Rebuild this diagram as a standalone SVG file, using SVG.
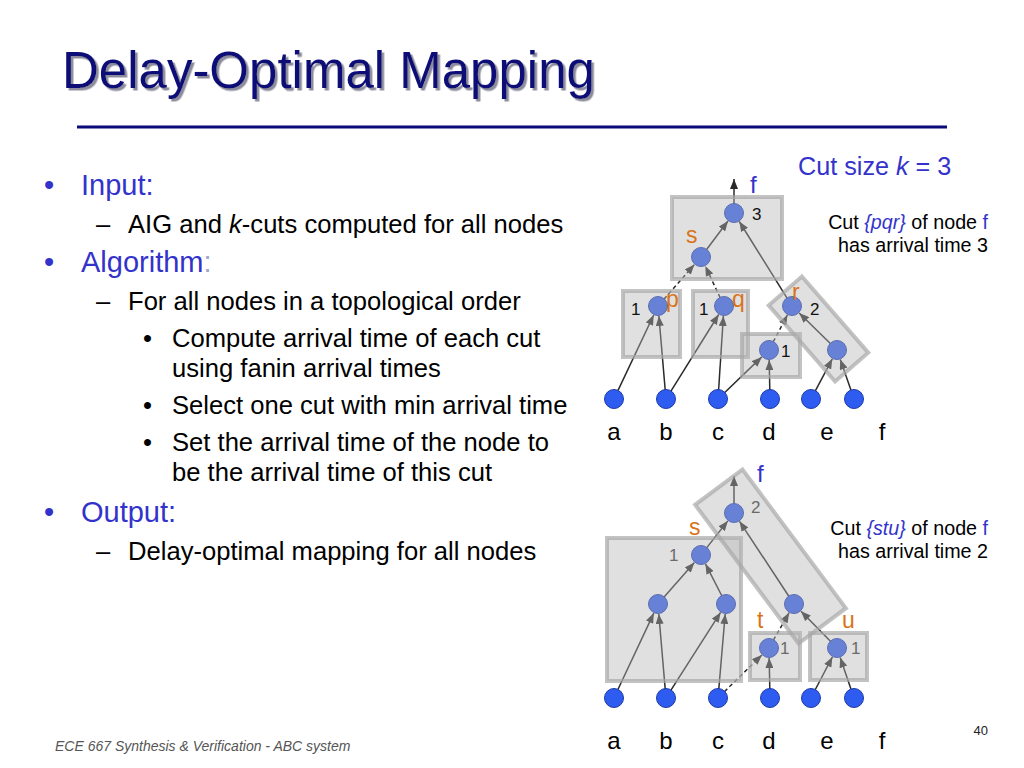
<svg xmlns="http://www.w3.org/2000/svg" width="1024" height="768" viewBox="0 0 1024 768">
<defs>
<marker id="ah" markerUnits="userSpaceOnUse" markerWidth="10" markerHeight="8" refX="10" refY="4" orient="auto">
<path d="M0,0 L10,4 L0,8 z" fill="#2a2a2a"/>
</marker>
<filter id="shadow" x="-5%" y="-20%" width="110%" height="150%">
<feDropShadow dx="2.5" dy="2.5" stdDeviation="0.7" flood-color="#8c8c9c" flood-opacity="1"/>
</filter>
</defs>
<style>
.t{font-family:"Liberation Sans",Arial,sans-serif}
.edge{stroke:#2a2a2a;stroke-width:1.5;fill:none;marker-end:url(#ah)}
.dash{stroke-dasharray:4 3}
.node{fill:#2f5cf0;stroke:#1d3aa8;stroke-width:1}
.cut{fill:#b4b4b4;fill-opacity:0.42;stroke:#a6a6a6;stroke-opacity:0.68;stroke-width:4}
.blue{fill:#3333cc}
.org{fill:#d9731a;font-size:23px}
.num{font-size:17px;fill:#111}
.numg{font-size:17px;fill:#6a6a6a}
.leaf{font-size:24px;fill:#000;text-anchor:middle}
.b1{font-size:29px}
.b2{font-size:25.6px;fill:#000}
.rt{font-size:19.7px;fill:#000;text-anchor:end}
</style>
<rect width="1024" height="768" fill="#fff"/>

<!-- Title -->
<g id="title">
<text class="t" x="62" y="88" font-size="51" fill="#0a0a78" filter="url(#shadow)">Delay-Optimal Mapping</text>
<line x1="77" y1="127" x2="947" y2="127" stroke="#0a0a78" stroke-width="3"/>
</g>

<!-- Bullets -->
<g id="bullets" class="t">
<text x="44" y="195" class="b1 blue">•</text>
<text x="81" y="195" class="b1 blue">Input:</text>
<text x="96" y="233" class="b2">–</text>
<text x="128" y="233" class="b2">AIG and <tspan font-style="italic">k</tspan>-cuts computed for all nodes</text>
<text x="44" y="272" class="b1 blue">•</text>
<text x="81" y="272" class="b1"><tspan class="blue">Algorithm</tspan><tspan fill="#a6a6d2">:</tspan></text>
<text x="96" y="310" class="b2">–</text>
<text x="128" y="310" class="b2">For all nodes in a topological order</text>
<text x="143" y="347" class="b2">•</text>
<text x="172" y="347" class="b2">Compute arrival time of each cut</text>
<text x="172" y="377" class="b2">using fanin arrival times</text>
<text x="143" y="414" class="b2">•</text>
<text x="172" y="414" class="b2">Select one cut with min arrival time</text>
<text x="143" y="451" class="b2">•</text>
<text x="172" y="451" class="b2">Set the arrival time of the node to</text>
<text x="172" y="481" class="b2">be the arrival time of this cut</text>
<text x="44" y="522" class="b1 blue">•</text>
<text x="81" y="522" class="b1 blue">Output:</text>
<text x="96" y="560" class="b2">–</text>
<text x="128" y="560" class="b2">Delay-optimal mapping for all nodes</text>
</g>

<!-- Right side texts -->
<g id="notes" class="t">
<text x="798" y="175" font-size="25.2" class="blue">Cut size <tspan font-style="italic">k</tspan> = 3</text>
<text x="988" y="229" class="rt">Cut <tspan font-style="italic" fill="#3333cc">{pqr}</tspan> of node <tspan fill="#3333cc">f</tspan></text>
<text x="988" y="252" class="rt">has arrival time 3</text>
<text x="988" y="535" class="rt">Cut <tspan font-style="italic" fill="#3333cc">{stu}</tspan> of node <tspan fill="#3333cc">f</tspan></text>
<text x="988" y="558" class="rt">has arrival time 2</text>
</g>

<!-- Connectors -->
<g id="connectors">
<!-- top diagram -->
<line class="edge" x1="617.8" y1="390.9" x2="653.7" y2="315.0"/>
<line class="edge" x1="665.2" y1="390.0" x2="658.9" y2="316.0"/>
<line class="edge" x1="670.8" y1="391.4" x2="718.7" y2="314.5"/>
<line class="edge" x1="718.6" y1="390.0" x2="723.4" y2="316.0"/>
<line class="edge" x1="724.5" y1="392.8" x2="761.8" y2="356.9"/>
<line class="edge" x1="769.8" y1="390.0" x2="769.2" y2="360.0"/>
<line class="edge" x1="815.2" y1="391.1" x2="832.3" y2="358.8"/>
<line class="edge" x1="851.1" y1="390.5" x2="840.3" y2="359.4"/>
<line class="edge dash" x1="773.2" y1="342.0" x2="787.4" y2="314.9"/>
<line class="edge" x1="830.6" y1="343.7" x2="799.2" y2="313.0"/>
<line class="edge dash" x1="663.9" y1="299.2" x2="694.4" y2="264.5"/>
<line class="edge dash" x1="720.2" y1="297.8" x2="705.3" y2="266.1"/>
<line class="edge" x1="706.4" y1="249.8" x2="728.0" y2="221.0"/>
<line class="edge" x1="787.2" y1="298.4" x2="739.3" y2="221.5"/>
<line class="edge" x1="734" y1="204" x2="734" y2="179"/>
<!-- bottom diagram -->
<line class="edge" x1="617.8" y1="689.8" x2="653.8" y2="613.1"/>
<line class="edge" x1="665.2" y1="689.0" x2="658.8" y2="614.0"/>
<line class="edge" x1="670.8" y1="690.4" x2="720.6" y2="612.4"/>
<line class="edge" x1="718.8" y1="689.0" x2="725.2" y2="614.0"/>
<line class="edge dash" x1="724.4" y1="691.7" x2="761.9" y2="655.0"/>
<line class="edge" x1="769.8" y1="689.0" x2="769.2" y2="658.0"/>
<line class="edge" x1="815.1" y1="690.0" x2="832.4" y2="656.9"/>
<line class="edge" x1="851.1" y1="689.5" x2="840.2" y2="657.5"/>
<line class="edge dash" x1="773.4" y1="640.2" x2="789.1" y2="612.7"/>
<line class="edge" x1="830.7" y1="641.6" x2="801.0" y2="611.2"/>
<line class="edge" x1="663.9" y1="597.2" x2="694.4" y2="562.5"/>
<line class="edge" x1="721.9" y1="596.0" x2="705.5" y2="563.9"/>
<line class="edge" x1="706.6" y1="547.9" x2="727.8" y2="520.9"/>
<line class="edge" x1="789.0" y1="596.5" x2="739.5" y2="521.3"/>
<line class="edge" x1="734" y1="504" x2="734" y2="476"/>
</g>

<!-- Top diagram nodes -->
<g id="top-a"><circle class="node" cx="614" cy="399" r="9.5"/></g>
<g id="top-b"><circle class="node" cx="666" cy="399" r="9.5"/></g>
<g id="top-c"><circle class="node" cx="718" cy="399" r="9.5"/></g>
<g id="top-d"><circle class="node" cx="770" cy="399" r="9.5"/></g>
<g id="top-e"><circle class="node" cx="811" cy="399" r="9.5"/></g>
<g id="top-f-in"><circle class="node" cx="854" cy="399" r="9.5"/></g>
<g id="top-p"><circle class="node" cx="658" cy="306" r="9.5"/></g>
<g id="top-q"><circle class="node" cx="724" cy="306" r="9.5"/></g>
<g id="top-r"><circle class="node" cx="792" cy="306" r="9.5"/></g>
<g id="top-dn"><circle class="node" cx="769" cy="350" r="9.5"/></g>
<g id="top-rn"><circle class="node" cx="837" cy="350" r="9.5"/></g>
<g id="top-s"><circle class="node" cx="701" cy="257" r="9.5"/></g>
<g id="top-f"><circle class="node" cx="734" cy="213" r="9.5"/></g>

<!-- Bottom diagram nodes -->
<g id="bot-a"><circle class="node" cx="614" cy="698" r="9.5"/></g>
<g id="bot-b"><circle class="node" cx="666" cy="698" r="9.5"/></g>
<g id="bot-c"><circle class="node" cx="718" cy="698" r="9.5"/></g>
<g id="bot-d"><circle class="node" cx="770" cy="698" r="9.5"/></g>
<g id="bot-e"><circle class="node" cx="811" cy="698" r="9.5"/></g>
<g id="bot-f-in"><circle class="node" cx="854" cy="698" r="9.5"/></g>
<g id="bot-l"><circle class="node" cx="658" cy="604" r="9.5"/></g>
<g id="bot-m"><circle class="node" cx="726" cy="604" r="9.5"/></g>
<g id="bot-n"><circle class="node" cx="794" cy="604" r="9.5"/></g>
<g id="bot-t"><circle class="node" cx="769" cy="648" r="9.5"/></g>
<g id="bot-u"><circle class="node" cx="837" cy="648" r="9.5"/></g>
<g id="bot-s"><circle class="node" cx="701" cy="555" r="9.5"/></g>
<g id="bot-f"><circle class="node" cx="734" cy="513" r="9.5"/></g>

<!-- Cuts (semi-transparent boxes) -->
<g id="cuts">
<rect class="cut" x="672" y="197" width="110" height="82"/>
<rect class="cut" x="623" y="291" width="57" height="66"/>
<rect class="cut" x="693" y="291" width="55" height="66"/>
<rect class="cut" x="742" y="334" width="58" height="43"/>
<rect class="cut" x="-50.5" y="-22" width="101" height="44" transform="translate(818.5 329) rotate(48.9)"/>
<rect class="cut" x="607" y="538" width="134" height="143"/>
<rect class="cut" x="750" y="633" width="50" height="47"/>
<rect class="cut" x="810" y="633" width="57" height="47"/>
<rect class="cut" x="-86.5" y="-29.5" width="173" height="59" transform="translate(770.5 556.5) rotate(53.3)"/>
</g>

<!-- Labels -->
<g id="labels" class="t">
<text x="750" y="193" font-size="24" class="blue">f</text>
<text x="752" y="220" class="num">3</text>
<text x="686" y="243" class="org">s</text>
<text x="631" y="315" class="num">1</text>
<text x="666" y="307" class="org">p</text>
<text x="699" y="315" class="num">1</text>
<text x="732" y="307" class="org">q</text>
<text x="792" y="300" class="org">r</text>
<text x="810" y="315" class="num">2</text>
<text x="781" y="357" class="num">1</text>
<text x="614" y="440" class="leaf">a</text>
<text x="666" y="440" class="leaf">b</text>
<text x="718" y="440" class="leaf">c</text>
<text x="769" y="440" class="leaf">d</text>
<text x="827" y="440" class="leaf">e</text>
<text x="882" y="440" class="leaf">f</text>

<text x="757" y="482" font-size="24" class="blue">f</text>
<text x="751" y="513" class="numg">2</text>
<text x="689" y="535" class="org">s</text>
<text x="669" y="561" class="numg">1</text>
<text x="757" y="628" class="org">t</text>
<text x="780" y="654" class="numg">1</text>
<text x="842" y="628" class="org">u</text>
<text x="851" y="654" class="numg">1</text>
<text x="614" y="749" class="leaf">a</text>
<text x="666" y="749" class="leaf">b</text>
<text x="718" y="749" class="leaf">c</text>
<text x="769" y="749" class="leaf">d</text>
<text x="827" y="749" class="leaf">e</text>
<text x="882" y="749" class="leaf">f</text>
</g>

<!-- Footer -->
<g id="footer" class="t">
<text x="55" y="751" font-size="14" font-style="italic" fill="#555">ECE 667 Synthesis &amp; Verification - ABC system</text>
<text x="988" y="735" font-size="13" fill="#222" text-anchor="end">40</text>
</g>
</svg>
